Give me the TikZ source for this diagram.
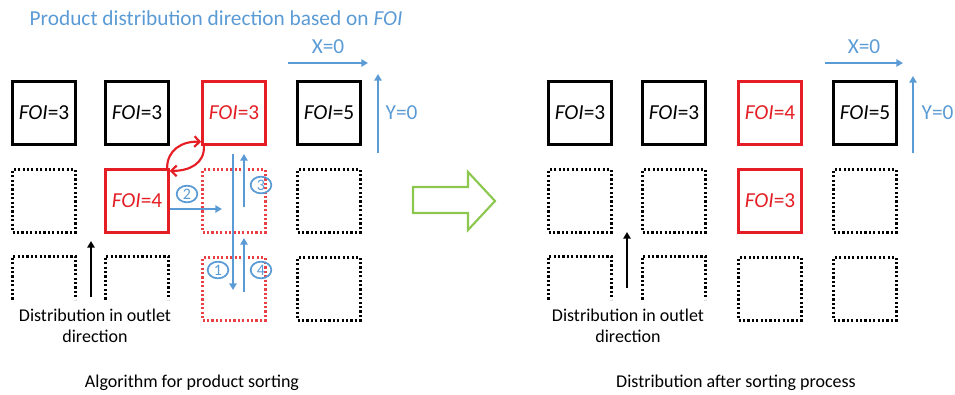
\documentclass[tikz,border=0pt]{standalone}
\usepackage{fontspec}
\setmainfont{Carlito}
\usetikzlibrary{arrows.meta,shadows,shapes.geometric}
\definecolor{foiBlue}{RGB}{91,155,213}
\definecolor{foiRed}{RGB}{228,30,36}
\definecolor{foiGreen}{RGB}{140,200,80}

\begin{document}
\begin{tikzpicture}[x=0.75pt, y=0.75pt]
    \tikzstyle{fullBox} = [draw=black, line width=2.2pt, fill=white, minimum size=47pt, inner sep=0pt,
                           font=\fontsize{16}{19}\selectfont,
                           drop shadow={shadow xshift=1pt, shadow yshift=-1pt, opacity=0.3}]
    \tikzstyle{redBox} = [fullBox, draw=foiRed, text=foiRed]
    \tikzstyle{dotBox} = [draw=black, line width=2.2pt, dash pattern=on 1.6pt off 1.7pt,
                          minimum size=47pt, inner sep=0pt]
    \tikzstyle{redDotBox} = [dotBox, draw=foiRed!85, line width=1.8pt]
    \tikzstyle{openBox} = [minimum width=47pt, minimum height=32pt, inner sep=0pt]
    \tikzstyle{openEdge} = [draw=black, line width=2.2pt, dash pattern=on 1.6pt off 1.7pt]
    \tikzstyle{blueArrow} = [draw=foiBlue, line width=1.6pt, -{Triangle[length=5pt,width=5.5pt]}]
    \tikzstyle{redArrow} = [draw=foiRed, line width=1.6pt, -{Straight Barb[length=4pt,width=8pt]}]
    \tikzstyle{blackArrow} = [draw=black, line width=1.6pt, -{Triangle[length=5pt,width=5.5pt]}]
    \tikzstyle{numCircle} = [ellipse, draw=foiBlue, line width=1.3pt, text=foiBlue, inner sep=0pt,
                             minimum width=15.5pt, minimum height=12.5pt, font=\fontsize{12}{13}\selectfont]
    \tikzstyle{axisLabel} = [text=foiBlue, font=\fontsize{16}{19}\selectfont]
    \tikzstyle{caption} = [font=\fontsize{13.5}{16}\selectfont, align=center]
    \useasboundingbox (0,0) rectangle (955,394);

    \node[anchor=west, text=foiBlue, font=\fontsize{16}{19}\selectfont] (title) at (25,376)
        {Product distribution direction based on \textit{FOI}};

    % left panel: algorithm
    \node[fullBox] (a11) at (44,281) {\textit{FOI}=3};
    \node[fullBox] (a12) at (137,281) {\textit{FOI}=3};
    \node[redBox]  (a13) at (234,281) {\textit{FOI}=3};
    \node[fullBox] (a14) at (329,281) {\textit{FOI}=5};
    \node[dotBox]    (a21) at (44,193) {};
    \node[redBox]    (a22) at (137,193) {\textit{FOI}=4};
    \node[redDotBox] (a23) at (234,193) {};
    \node[dotBox]    (a24) at (329,193) {};
    \node[openBox]   (a31) at (44,116) {};
    \node[openBox]   (a32) at (137,116) {};
    \node[redDotBox] (a33) at (234,105) {};
    \node[dotBox]    (a34) at (329,105) {};
    \foreach \n in {a31,a32}
        \path[openEdge] (\n.south west) |- (\n.north) -| (\n.south east);

    % swap between the two red boxes
    \draw[redArrow] ([xshift=-2pt]a22.north east) .. controls (167,244) and (182,253) .. ([yshift=3pt]a13.south west);
    \draw[redArrow] ([xshift=2pt]a13.south west) .. controls (205,231) and (190,223) .. ([yshift=-2pt]a22.north east);

    % search steps
    \coordinate (s1a) at (233,240);
    \coordinate (s1b) at (233,104);
    \coordinate (s2b) at (222,185);
    \coordinate (s3a) at (244,187);
    \coordinate (s3b) at (244,240);
    \coordinate (s4a) at (244,102);
    \coordinate (s4b) at (244,156);
    \draw[blueArrow] (s1a) -- (s1b);
    \draw[blueArrow] ([yshift=-6pt]a22.east) -- (s2b);
    \draw[blueArrow] (s3a) -- (s3b);
    \draw[blueArrow] (s4a) -- (s4b);
    \node[numCircle] (n1) at (218,124) {1};
    \node[numCircle] (n2) at (187,200) {2};
    \node[numCircle] (n3) at (261,209) {3};
    \node[numCircle] (n4) at (261,124) {4};

    % axes
    \coordinate (ax1) at (288,331);
    \coordinate (ax2) at (368,331);
    \coordinate (ay1) at (378,241);
    \coordinate (ay2) at (378,320);
    \draw[blueArrow] (ax1) -- (ax2);
    \draw[blueArrow] (ay1) -- (ay2);
    \node[axisLabel] (xa) at (328,347) {X=0};
    \node[axisLabel, anchor=west] (ya) at (381,281) {Y=0};

    \coordinate (outA1) at (91,97);
    \coordinate (outA2) at (91,153);
    \draw[blackArrow] (outA1) -- (outA2);
    \node[caption] (outTextA) at (95,68) {Distribution in outlet\\direction};
    \node[caption] (capA) at (192,11) {Algorithm for product sorting};

    % green block arrow
    \draw[foiGreen, line width=1.6pt, line join=miter]
        (413,181) -- (468,181) -- (468,164) -- (495,193) -- (468,222) -- (468,207) -- (413,207) -- cycle;

    % right panel: result
    \node[fullBox] (b11) at (580,281) {\textit{FOI}=3};
    \node[fullBox] (b12) at (674,281) {\textit{FOI}=3};
    \node[redBox]  (b13) at (770,281) {\textit{FOI}=4};
    \node[fullBox] (b14) at (865,281) {\textit{FOI}=5};
    \node[dotBox]  (b21) at (580,193) {};
    \node[dotBox]  (b22) at (674,193) {};
    \node[redBox]  (b23) at (770,193) {\textit{FOI}=3};
    \node[dotBox]  (b24) at (865,193) {};
    \node[openBox] (b31) at (580,116) {};
    \node[openBox] (b32) at (674,116) {};
    \node[dotBox]  (b33) at (770,105) {};
    \node[dotBox]  (b34) at (865,105) {};
    \foreach \n in {b31,b32}
        \path[openEdge] (\n.south west) |- (\n.north) -| (\n.south east);

    \coordinate (bx1) at (825,331);
    \coordinate (bx2) at (903,331);
    \coordinate (by1) at (913,241);
    \coordinate (by2) at (913,318);
    \draw[blueArrow] (bx1) -- (bx2);
    \draw[blueArrow] (by1) -- (by2);
    \node[axisLabel] (xb) at (864,347) {X=0};
    \node[axisLabel, anchor=west] (yb) at (917,281) {Y=0};

    \coordinate (outB1) at (627,106);
    \coordinate (outB2) at (627,162);
    \draw[blackArrow] (outB1) -- (outB2);
    \node[caption] (outTextB) at (628,68) {Distribution in outlet\\direction};
    \node[caption] (capB) at (736,11) {Distribution after sorting process};
\end{tikzpicture}
\end{document}
